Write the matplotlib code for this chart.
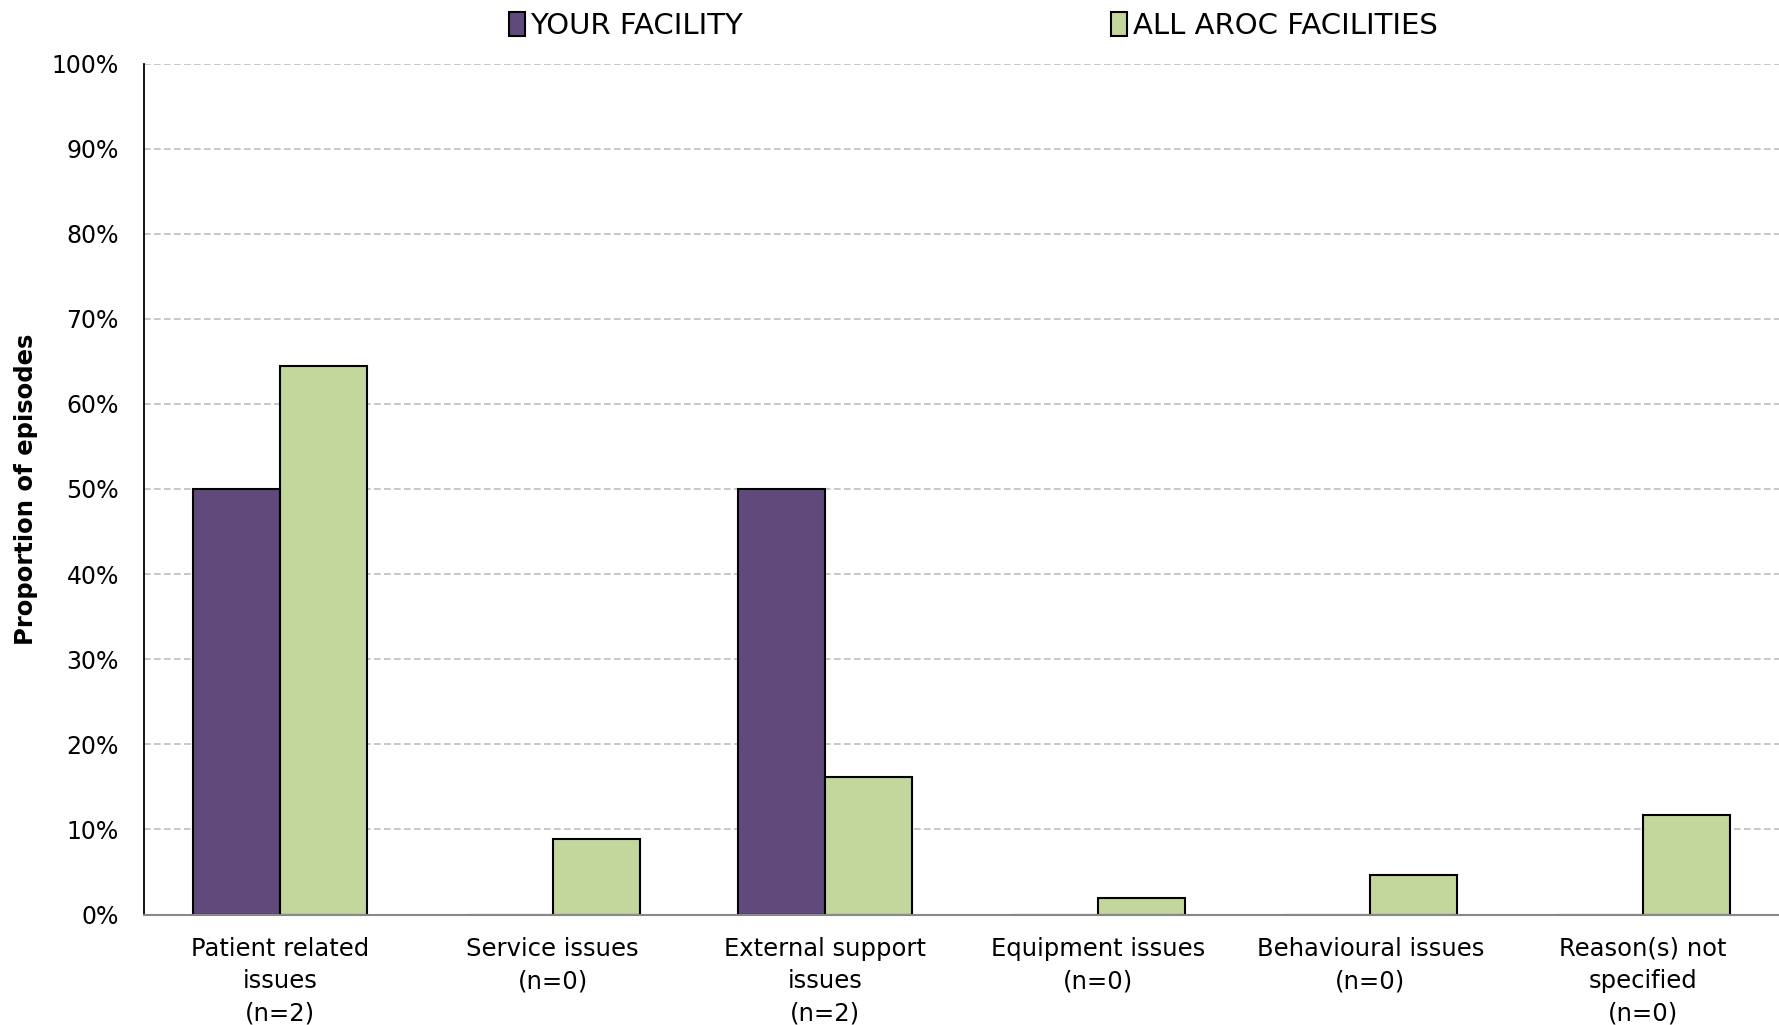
import numpy as np
import matplotlib
matplotlib.use("Agg")
import matplotlib.pyplot as plt
from matplotlib.patches import Patch

categories = ["Patient related\nissues\n(n=2)", "Service issues\n(n=0)",
              "External support\nissues\n(n=2)", "Equipment issues\n(n=0)",
              "Behavioural issues\n(n=0)", "Reason(s) not\nspecified\n(n=0)"]
your_facility = [50.0, 0.0, 50.0, 0.0, 0.0, 0.0]
all_aroc = [64.5, 8.85, 16.1, 1.9, 4.6, 11.7]
yticks = list(range(0, 101, 10))

purple = "#604a7b"
green = "#c3d69b"

plt.rcParams["font.family"] = ["DejaVu Sans"]

fig = plt.figure(figsize=(17.79, 10.25), dpi=100)
ax = fig.add_axes([144 / 1779, 1 - 914.5 / 1025, 1 - 144 / 1779, 851 / 1025])

x = np.arange(len(categories))
w = 0.32
ax.bar(x - w / 2, your_facility, w, color=purple, edgecolor="black", lw=1.5, zorder=3)
ax.bar(x + w / 2, all_aroc, w, color=green, edgecolor="black", lw=1.5, zorder=3)

ax.set_xlim(-0.5, len(categories) - 0.5)
ax.set_ylim(0, 100)
ax.set_yticks(yticks)
ax.set_yticklabels([f"{v}%" for v in yticks], fontsize=17)
ax.set_xticks(x)
ax.set_xticklabels(categories, fontsize=17.5, linespacing=1.45)
ax.tick_params(length=0)
ax.tick_params(axis="x", pad=16)
ax.tick_params(axis="y", pad=18)

ax.grid(axis="y", color="#bdbdbd", linestyle=(0, (4, 2)), lw=1.2, zorder=0)
ax.set_axisbelow(True)
for s in ["top", "right"]:
    ax.spines[s].set_visible(False)
ax.spines["left"].set_color("black")
ax.spines["left"].set_linewidth(1.3)
ax.spines["bottom"].set_color("#888888")
ax.spines["bottom"].set_linewidth(1.5)
ax.spines["bottom"].set_zorder(4)

ax.set_ylabel("Proportion of episodes", fontsize=17.5, fontweight="bold", labelpad=10)

handles = [Patch(facecolor=purple, edgecolor="black", lw=1.5, label="YOUR FACILITY"),
           Patch(facecolor=green, edgecolor="black", lw=1.5, label="ALL AROC FACILITIES")]
fig.legend(handles=handles, loc="center", bbox_to_anchor=(0.547, 1 - 26 / 1025), ncol=2,
           frameon=False, fontsize=21,
           handlelength=0.55, handleheight=0.85, handletextpad=0.2, columnspacing=12.6)

fig.savefig("out.png", dpi=100)
